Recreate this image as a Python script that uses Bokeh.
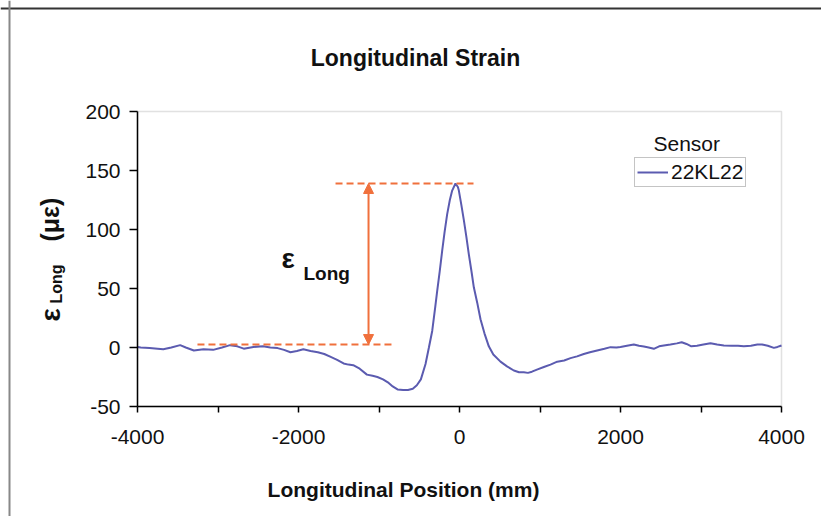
from bokeh.plotting import figure
from bokeh.models import (Range1d, FixedTicker, Label, Arrow, NormalHead, Legend,
                          LegendItem, LinearAxis, BoxAnnotation, Span)
from bokeh.embed import file_html
from bokeh.resources import INLINE
from math import pi

# ---- data ----
positions = [-4000, -3960, -3850, -3750, -3680, -3580, -3470, -3400, -3300, -3180,
             -3060, -2950, -2850, -2760, -2680, -2560, -2440, -2350, -2260, -2180,
             -2100, -2020, -1940, -1850, -1760, -1680, -1600, -1520, -1440, -1380,
             -1320, -1240, -1150, -1080, -1020, -950, -890, -830, -770, -700,
             -640, -580, -530, -480, -422, -380, -339, -300, -277, -245,
             -215, -185, -153, -120, -91, -50, -20, -8, 25, 54,
             85, 116, 150, 178, 220, 261, 310, 364, 420, 509,
             590, 675, 740, 799, 850, 900, 970, 1048, 1130, 1214,
             1300, 1379, 1460, 1544, 1620, 1710, 1800, 1876, 1950, 2000,
             2080, 2165, 2230, 2290, 2350, 2414, 2480, 2538, 2620, 2700,
             2760, 2820, 2880, 2950, 3030, 3118, 3200, 3284, 3380, 3460,
             3532, 3620, 3700, 3760, 3830, 3905, 3950, 4000]
strain = [0.5, 0, -0.5, -1, -1.5, 0, 2, 0, -2.5, -1.5,
          -2, 0, 2, 1, -1, 0.5, 1, 0, -0.5, -2,
          -4, -3, -1.5, -3, -4, -5.5, -8, -10.5, -13.5, -14.5,
          -15, -18, -23, -24, -25, -27, -29.5, -33, -35.5, -36,
          -36, -35, -32, -27, -14, 0, 14, 35, 48, 65,
          82, 98, 113, 125, 133, 139, 136, 133, 120, 108,
          94, 79, 64, 51, 38, 24, 12, 1, -6, -12,
          -16, -19.5, -21, -21, -21.5, -20.5, -18.5, -16.5, -14.5, -12,
          -11, -9, -7.5, -5.5, -4, -2.5, -1, 0.3, 0, 0.5,
          1.5, 2.5, 1.5, 0.8, 0, -1.1, 1, 1.7, 2.5, 3.5,
          4.5, 3, 1, 1.5, 2.5, 3.6, 2.5, 1.7, 1.5, 1.5,
          1.1, 1.5, 2.5, 2.5, 1.5, -0.3, 0.5, 1.7]
sensor_name = "22KL22"
x_major_ticks = [-4000, -2000, 0, 2000, 4000]
x_minor_ticks = [-3000, -1000, 1000, 3000]
y_ticks = [-50, 0, 50, 100, 150, 200]
x_bounds = (-4000, 4000)
y_bounds = (-50, 200)
peak_level = 139
base_level = 2.5
marker_x = -1130
top_dash_x = [-1540, 174]
base_dash_x = [-3255, -832]

FONT = "Liberation Sans"
BLUE = "#5b5bb0"
ORANGE = "#f0703c"
INK = "#111111"

W, H = 821, 516

# page-pixel -> data helpers (layout only): plot area spans px 137..781 / 111..406
def X(px):
    return (px - 137) / 0.0805 - 4000

def Y(py):
    return (406 - py) / 1.18 - 50

p = figure(width=W, height=H, output_backend="svg", toolbar_location=None,
           x_range=Range1d(X(0), X(W)), y_range=Range1d(Y(H), Y(0)),
           x_axis_location=None, y_axis_location=None, min_border=0)
p.title.visible = False
p.xgrid.visible = False
p.ygrid.visible = False
p.outline_line_color = None
p.background_fill_color = "white"
p.border_fill_color = "white"

# outer picture frame (top dark, left gray)
p.add_layout(Span(location=Y(8), dimension="width", line_color="#333333", line_width=2,
                  level="underlay"))
p.add_layout(Span(location=X(9), dimension="height", line_color="#888888", line_width=2,
                  level="underlay"))
# plot area box
p.add_layout(BoxAnnotation(left=x_bounds[0], right=x_bounds[1], bottom=y_bounds[0],
                           top=y_bounds[1], fill_alpha=0, line_color="#9a9a9a",
                           line_width=1.5, level="underlay"))

# axes
xaxis = LinearAxis(fixed_location=y_bounds[0], bounds=x_bounds)
yaxis = LinearAxis(fixed_location=x_bounds[0], bounds=y_bounds)
for ax in (xaxis, yaxis):
    ax.axis_line_color = "black"
    ax.axis_line_width = 1.5
    ax.major_tick_line_color = "black"
    ax.major_tick_line_width = 1.5
    ax.minor_tick_line_color = "black"
    ax.minor_tick_line_width = 1.5
    ax.major_tick_in = 0
    ax.minor_tick_in = 0
    ax.major_label_text_font = FONT
    ax.major_label_text_font_size = "21px"
    ax.major_label_text_color = INK

xaxis.ticker = FixedTicker(ticks=x_major_ticks, minor_ticks=x_minor_ticks)
xaxis.major_label_overrides = {t: str(t) for t in x_major_ticks}
xaxis.major_tick_out = 6
xaxis.minor_tick_out = 6
xaxis.major_label_standoff = 17
yaxis.ticker = FixedTicker(ticks=y_ticks, minor_ticks=[])
yaxis.major_label_overrides = {t: str(t) for t in y_ticks}
yaxis.major_tick_out = 8
yaxis.minor_tick_out = 0
yaxis.major_label_standoff = 9
p.add_layout(xaxis, "below")
p.add_layout(yaxis, "left")

# curve
r = p.line(positions, strain, line_color=BLUE, line_width=2)

# dashed reference lines
p.line(top_dash_x, [peak_level, peak_level], line_color=ORANGE, line_width=2, line_dash="7 4")
p.line(base_dash_x, [base_level, base_level], line_color=ORANGE, line_width=2, line_dash="7 4")

# arrow with two heads
p.add_layout(Arrow(x_start=marker_x, y_start=base_level, x_end=marker_x, y_end=peak_level,
                   line_color=ORANGE, line_width=2,
                   start=NormalHead(size=10, fill_color=ORANGE, line_color=ORANGE),
                   end=NormalHead(size=10, fill_color=ORANGE, line_color=ORANGE)))


def text(px, py, s, size, bold=False, align="left", rotated=False):
    # place a text by the page position of its baseline start (layout helper)
    shift = 0.3 * size
    if rotated:
        px, ang = px - shift, pi / 2
    else:
        py, ang = py - shift, 0
    p.add_layout(Label(x=X(px), y=Y(py), text=s, angle=ang, text_font=FONT,
                       text_font_size=f"{size}px", text_color=INK,
                       text_font_style="bold" if bold else "normal",
                       text_baseline="alphabetic", text_align=align))


# annotation text epsilon_Long
text(281, 266, "ε", 28, bold=True)
text(303, 279, "Long", 19, bold=True)

# title and x-axis label
text(415, 64, "Longitudinal Strain", 23, bold=True, align="center")
text(403, 495, "Longitudinal Position (mm)", 21, bold=True, align="center")

# y axis label (rotated)
text(58, 321, "ε", 28, bold=True, rotated=True)
text(61, 303, "Long", 16, bold=True, rotated=True)
text(57, 241, "(με)", 25, bold=True, rotated=True)

# legend
text(653, 149, "Sensor", 21)
legend = Legend(items=[LegendItem(label=sensor_name, renderers=[r])],
                location=(634, H - 187), margin=0, padding=2, spacing=0,
                glyph_width=31, glyph_height=20, label_height=20, label_standoff=3,
                label_text_font=FONT, label_text_font_size="21px", label_text_color=INK,
                border_line_color="#8a8a8a", border_line_width=1.5,
                background_fill_alpha=1)
p.add_layout(legend)

open("out.html", "w").write(file_html(p, INLINE))
